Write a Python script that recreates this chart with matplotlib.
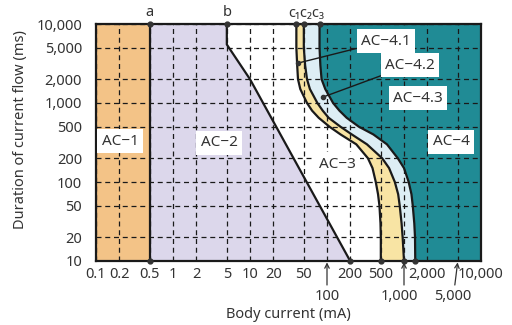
import matplotlib
matplotlib.use("Agg")
import matplotlib.pyplot as plt
from matplotlib.transforms import blended_transform_factory

plt.rcParams['font.family'] = ['Noto Sans', 'DejaVu Sans']

# ---- data (mA, ms) ----
x_min, x_max = 0.1, 10000
y_min, y_max = 10, 10000

a_current = 0.5
b_ms = [10000, 5500, 2000, 10]
b_mA = [5, 5, 10, 200]

c_ms = [10000, 5000, 3000, 2000, 1500, 1000, 800, 650, 500, 400, 300, 200, 150, 100, 70, 50, 30, 20, 10]
c1_mA = [40, 40, 41, 42, 45, 55, 64, 78, 108, 150, 240, 340, 390, 430, 460, 480, 495, 500, 500]
c2_mA = [50, 50, 52, 55, 60, 75, 88, 105, 150, 210, 330, 520, 640, 760, 840, 880, 930, 960, 1000]
c3_mA = [80, 80, 82, 85, 95, 120, 145, 180, 260, 400, 600, 830, 1000, 1150, 1250, 1300, 1360, 1390, 1400]

grid_x = [0.1, 0.2, 0.5, 1, 2, 5, 10, 20, 50, 100, 200, 500, 1000, 2000, 5000, 10000]
x_labels = ['0.1', '0.2', '0.5', '1', '2', '5', '10', '20', '50', '', '200', '500', '', '2,000', '', '10,000']
arrow_ticks = [100, 1000, 5000]
arrow_labels = ['100', '1,000', '5,000']
grid_y = [10, 20, 50, 100, 200, 500, 1000, 2000, 5000, 10000]
y_labels = ['10', '20', '50', '100', '200', '500', '1,000', '2,000', '5,000', '10,000']

zone_names = ['AC−1', 'AC−2', 'AC−3', 'AC−4.1', 'AC−4.2', 'AC−4.3', 'AC−4']
zone_pos = [(0.205, 330), (3.96, 312), (135, 167), (584, 6090), (1197, 3027), (1520, 1156), (4077, 321)]

col_ac1 = '#F3C387'
col_ac2 = '#DCD7EB'
col_ac41 = '#F8E4A4'
col_ac42 = '#DDEEF5'
col_ac4 = '#208B95'
txt = '#333333'

fig = plt.figure(figsize=(5.12, 3.25), dpi=100)
ax = fig.add_axes([96/512, 1-261/325, 385/512, 237/325])
ax.set_xscale('log')
ax.set_yscale('log')
ax.set_xlim(x_min, x_max)
ax.set_ylim(y_min, y_max)

# zones
ax.fill([x_min, a_current, a_current, x_min], [y_min, y_min, y_max, y_max], color=col_ac1, lw=0, zorder=0)
ax.fill([a_current, a_current] + b_mA, [y_min, y_max] + b_ms, color=col_ac2, lw=0, zorder=0)
ax.fill(c1_mA + c2_mA[::-1], c_ms + c_ms[::-1], color=col_ac41, lw=0, zorder=0)
ax.fill(c2_mA + c3_mA[::-1], c_ms + c_ms[::-1], color=col_ac42, lw=0, zorder=0)
ax.fill(c3_mA + [x_max, x_max], c_ms + [y_min, y_max], color=col_ac4, lw=0, zorder=0)

# grid
ax.set_xticks(grid_x)
ax.set_xticklabels(x_labels)
ax.set_yticks(grid_y)
ax.set_yticklabels(y_labels)
ax.minorticks_off()
ax.grid(True, which='major', color='#1a1a1a', linestyle=(0, (4, 3)), linewidth=0.9, zorder=1)
ax.set_axisbelow(False)
ax.tick_params(length=0, labelsize=10.5, labelcolor=txt)
ax.tick_params(axis='x', pad=4)
ax.tick_params(axis='y', pad=10)

# curves
lc = '#1a1a1a'
ax.plot([a_current, a_current], [y_min, y_max], color=lc, lw=1.6, zorder=3)
ax.plot(b_mA, b_ms, color=lc, lw=1.6, zorder=3)
for c in (c1_mA, c2_mA, c3_mA):
    ax.plot(c, c_ms, color=lc, lw=1.6, zorder=3)

# end dots
dot_x = [a_current, a_current, b_mA[0], b_mA[-1], c1_mA[0], c2_mA[0], c3_mA[0], c1_mA[-1], c2_mA[-1], c3_mA[-1]]
dot_y = [y_max, y_min, y_max, y_min, y_max, y_max, y_max, y_min, y_min, y_min]
ax.plot(dot_x, dot_y, 'o', color='#333333', ms=3.5, zorder=5, clip_on=False)

for s in ax.spines.values():
    s.set_linewidth(1.6)
    s.set_color('#1a1a1a')
    s.set_zorder(4)

# top curve labels
tr = blended_transform_factory(ax.transData, ax.transAxes)
ax.text(a_current, 1.05, 'a', transform=tr, ha='center', va='center', fontsize=10.5, color=txt)
ax.text(b_mA[0], 1.05, 'b', transform=tr, ha='center', va='center', fontsize=10.5, color=txt)
ax.text(53, 1.045, 'c₁c₂c₃', transform=tr, ha='center', va='center', fontsize=10.5, color=txt)

# arrow tick labels
for xv, lab in zip(arrow_ticks, arrow_labels):
    dx = -5 if xv in (1000, 5000) else 0
    ax.annotate('', xy=(xv, y_min), xycoords='data',
                xytext=(-3 if xv == 5000 else 0, -24), textcoords='offset pixels',
                arrowprops=dict(arrowstyle='->', lw=0.9, color=txt, shrinkA=0, shrinkB=1,
                                mutation_scale=8))
    ax.annotate(lab, xy=(xv, y_min), xycoords='data', xytext=(dx, -36), textcoords='offset pixels',
                ha='center', va='center', fontsize=10.5, color=txt, annotation_clip=False)

# zone labels
box = dict(boxstyle='square,pad=0.3', fc='white', ec='none')
for name, (zx, zy) in zip(zone_names, zone_pos):
    if name == 'AC−4.1':
        ax.annotate(name, xy=(42, 3200), xytext=(zx, zy), ha='center', va='center', fontsize=11,
                    color=txt, bbox=box, zorder=6,
                    arrowprops=dict(arrowstyle='-', lw=1.0, color='#1a1a1a', shrinkA=0, shrinkB=0))
        ax.plot([42], [3200], 'o', color='#333333', ms=3, zorder=6)
    elif name == 'AC−4.2':
        ax.annotate(name, xy=(89, 1190), xytext=(zx, zy), ha='center', va='center', fontsize=11,
                    color=txt, bbox=box, zorder=6,
                    arrowprops=dict(arrowstyle='-', lw=1.0, color='#1a1a1a', shrinkA=0, shrinkB=0))
        ax.plot([89], [1190], 'o', color='#333333', ms=3, zorder=6)
    else:
        ax.text(zx, zy, name, ha='center', va='center', fontsize=11, color=txt, bbox=box, zorder=6)

fig.text(21/512, 1-130/325, 'Duration of current flow (ms)', rotation=90, ha='center', va='center',
         fontsize=10.5, color=txt)
fig.text(288/512, 1-314/325, 'Body current (mA)', ha='center', va='center', fontsize=10.5, color=txt)

fig.savefig('out.png', dpi=100)
